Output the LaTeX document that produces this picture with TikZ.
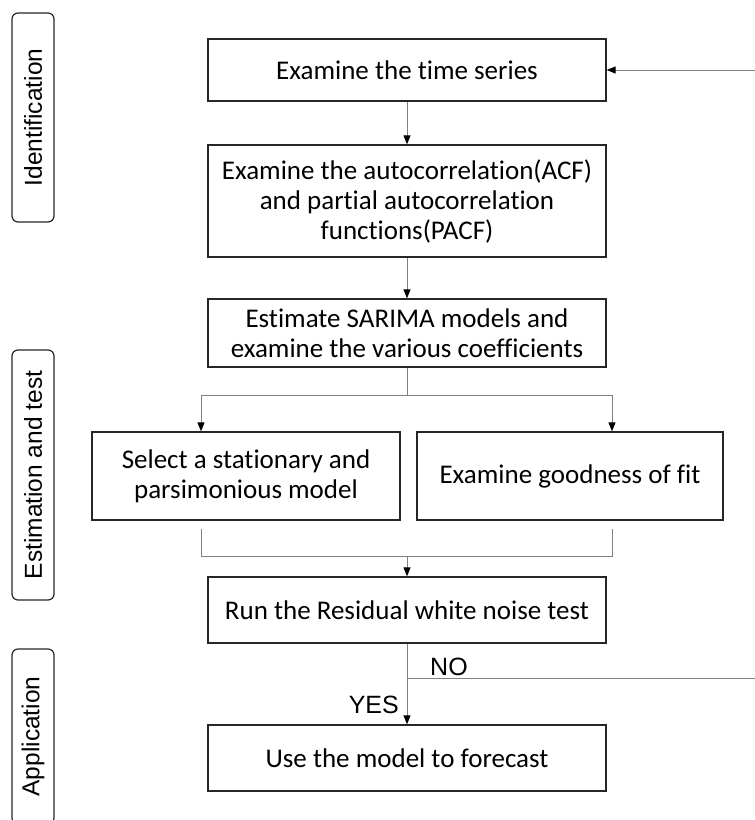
\documentclass[tikz,border=0pt]{standalone}
\usepackage{fontspec}
\setmainfont{Carlito}[Ligatures=NoCommon]
\newfontfamily\sidefont{Liberation Sans}
\usetikzlibrary{arrows.meta}

\begin{document}
\begin{tikzpicture}[x=1pt,y=-1pt,
	stage/.style={draw=black!85, line width=1.3pt, align=center, inner sep=0pt, font=\fontsize{27}{30}\selectfont},
	phase/.style={draw=black!85, line width=1.2pt, rounded corners=6pt, rotate=90, inner sep=0pt, minimum height=42pt, font=\sidefont\fontsize{24.5}{28}\selectfont},
	link/.style={draw=black!50, line width=0.9pt},
	flow/.style={link, -{Triangle[length=9pt,width=7pt,color=black]}},
	answer/.style={inner sep=0pt, font=\sidefont\fontsize{25}{28}\selectfont}]

	\useasboundingbox (0,0) rectangle (755,820);

	\node[phase, minimum width=209pt] (ident) at (33,117.5) {Identification};
	\node[phase, minimum width=250pt] (esttest) at (33,475) {Estimation and test};
	\node[phase, minimum width=175pt] (appl) at (33,736.5) {Application};

	\node[stage, minimum width=398pt, minimum height=62pt] (series) at (407,70) {Examine the time series};
	\node[stage, minimum width=398pt, minimum height=112pt] (acf) at (407,201) {Examine the autocorrelation(ACF)\\and partial autocorrelation\\functions(PACF)};
	\node[stage, minimum width=398pt, minimum height=68pt] (sarima) at (407,333) {Estimate SARIMA models and\\examine the various coefficients};
	\node[stage, minimum width=308pt, minimum height=88pt] (select) at (246,476) {Select a stationary and\\parsimonious model};
	\node[stage, minimum width=306pt, minimum height=88pt] (fit) at (570,476) {Examine goodness of fit};
	\node[stage, minimum width=398pt, minimum height=66pt] (resid) at (407,610) {Run the Residual white noise test};
	\node[stage, minimum width=398pt, minimum height=66pt] (forecast) at (407,758) {Use the model to forecast};

	\coordinate (back) at (755,70);
	\coordinate (split) at (407,395);
	\coordinate (merge) at (407,556);
	\coordinate (lcol) at (201,0);
	\coordinate (rcol) at (612,0);
	\coordinate (nosplit) at (407,678);
	\coordinate (noend) at (755,678);

	\draw[flow] (back) -- (series.east);
	\draw[flow] (series.south) -- (acf.north);
	\draw[flow] (acf.south) -- (sarima.north);
	\draw[link] (sarima.south) -- (split);
	\draw[flow] (split) -| (lcol |- select.north);
	\draw[flow] (split) -| (rcol |- fit.north);
	\draw[link] ([yshift=-8pt]lcol |- select.south) -- (lcol |- merge) -- (rcol |- merge) -- ([yshift=-8pt]rcol |- fit.south);
	\draw[flow] (merge) -- (resid.north);
	\draw[flow] (resid.south) -- (forecast.north);
	\draw[link] (nosplit) -- (noend);

	\node[answer, anchor=base west] (no) at (430,675) {NO};
	\node[answer, anchor=base east] (yes) at (399,713) {YES};
\end{tikzpicture}
\end{document}
